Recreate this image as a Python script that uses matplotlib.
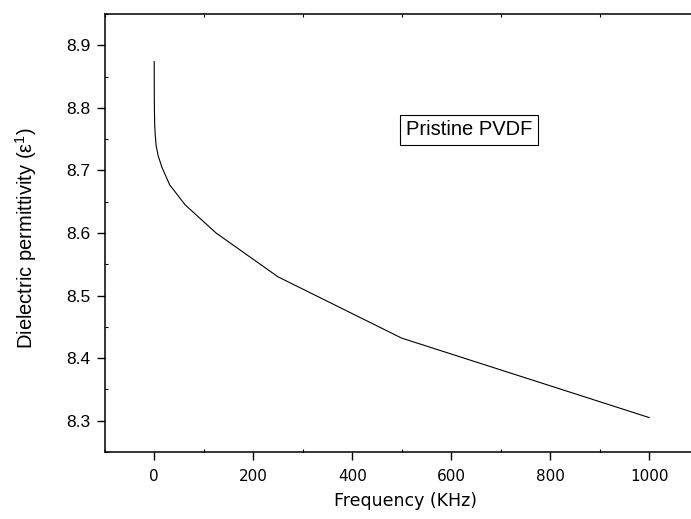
import numpy as np
import matplotlib.pyplot as plt
from matplotlib.ticker import MultipleLocator

# frequency (KHz) and dielectric permittivity
freq = [0.03, 0.06, 0.12, 0.24, 0.49, 0.98, 1.95, 3.9, 7.8, 15.6, 31.25, 62.5, 125, 250, 500, 1000]
eps = [8.874, 8.855, 8.835, 8.815, 8.795, 8.775, 8.758, 8.740, 8.724, 8.705, 8.677, 8.645, 8.600, 8.530, 8.432, 8.305]

xticks = [0, 200, 400, 600, 800, 1000]
yticks = [8.3, 8.4, 8.5, 8.6, 8.7, 8.8, 8.9]

W, H = 691, 519
fig = plt.figure(figsize=(W / 100, H / 100), dpi=100)
# axes run past the right edge of the canvas, as in the original
ax = fig.add_axes([104.7 / W, (H - 452) / H, 594 / W, 438 / H])

ax.plot(freq, eps, color='black', lw=0.8)

ax.set_xlim(-100, 1100)
ax.set_ylim(8.25, 8.95)
ax.set_xticks(xticks)
ax.set_yticks(yticks)
ax.set_yticklabels(['%.1f' % v for v in yticks])
ax.xaxis.set_minor_locator(MultipleLocator(100))
ax.yaxis.set_minor_locator(MultipleLocator(0.05))

for s in ax.spines.values():
    s.set_linewidth(1.1)
ax.spines['right'].set_visible(False)

ax.tick_params(which='major', direction='out', length=6, width=1.0,
               top=False, right=False)
ax.tick_params(axis='y', which='major', labelsize=12.5, pad=4)
ax.tick_params(axis='x', which='major', labelsize=11, pad=6)
ax.tick_params(which='minor', direction='in', length=2, width=0.8, top=True, right=False)
for lab in ax.get_yticklabels():
    lab.set_family('Liberation Sans')
for lab in ax.get_xticklabels():
    lab.set_family('DejaVu Sans')

ax.set_xlabel('Frequency (KHz)', fontsize=12.5, family='DejaVu Sans')
ax.xaxis.set_label_coords(0.507, -0.092)
ax.set_ylabel(r'Dielectric permittivity ($\mathregular{\epsilon^1}$)', fontsize=14.5,
              family='Liberation Sans')
ax.yaxis.set_label_coords(-0.11, 0.489)

ax.text(636, 8.765, 'Pristine PVDF', fontsize=14.5, family='Liberation Sans',
        ha='center', va='center',
        bbox=dict(boxstyle='square,pad=0.28', fc='white', ec='black', lw=0.8))

fig.savefig('out.png', dpi=100)
